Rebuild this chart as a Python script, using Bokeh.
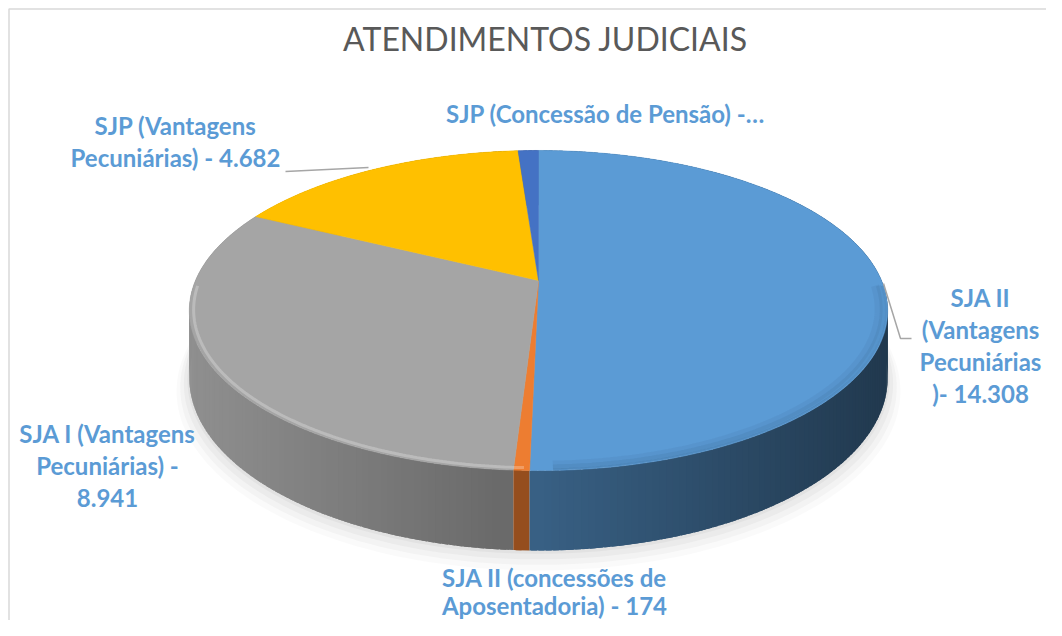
import numpy as np
from bokeh.plotting import figure
from bokeh.models import Range1d
from bokeh.embed import file_html
from bokeh.resources import INLINE
from bokeh.core.properties import value

# ---------------- data ----------------
categories = [
    "SJA II (Vantagens Pecuniárias)",
    "SJA II (concessões de Aposentadoria)",
    "SJA I (Vantagens Pecuniárias)",
    "SJP (Vantagens Pecuniárias)",
    "SJP (Concessão de Pensão)",
]
values = [14308, 174, 8941, 4682, 320]
colors = ["#5B9BD5", "#ED7D31", "#A5A5A5", "#FFC000", "#4472C4"]
label_lines = [
    ["SJA II", "(Vantagens", "Pecuniárias", ")- 14.308"],
    ["SJA II (concessões de", "Aposentadoria) - 174"],
    ["SJA I (Vantagens", "Pecuniárias) -", "8.941"],
    ["SJP (Vantagens", "Pecuniárias) - 4.682"],
    ["SJP (Concessão de Pensão) -…"],
]
title = "ATENDIMENTOS JUDICIAIS"

# ---------------- layout (picture pixel coordinates) ----------------
W, H = 1046, 620
CX, CY, RX, RY, K, D = 538, 280, 343, 154.4, 0.1875, 65
label_pos = [(980, 297), (554, 577), (107, 433), (175, 125), (605, 113)]
label_lh = [32, 28, 32, 32, 32]
leaders = [
    ([883, 900, 911], [283, 338, 338]),
    None,
    None,
    ([285, 368], [171, 167]),
    None,
]

p = figure(width=W, height=H, x_range=Range1d(0, W), y_range=Range1d(H, 0),
           output_backend="svg", toolbar_location=None, min_border=0)
p.axis.visible = False
p.grid.visible = False
p.outline_line_color = None
p.background_fill_color = "white"
p.border_fill_color = "white"

# chart border (top & left visible)
p.line([8.5, 8.5, 1100], [1100, 8.5, 8.5], line_color="#D9D9D9", line_width=1.5)


def proj(a, h, r=1.0):
    u = np.sin(a) * r
    v = np.cos(a) * r
    s = 1.0 / (1.0 + K * v)
    return CX + RX * u * s, CY + (-RY * v + D * h) * s


def shade(hexc, f):
    hexc = hexc.lstrip("#")
    rgb = [int(hexc[i:i + 2], 16) for i in (0, 2, 4)]
    rgb = [max(0, min(255, int(c * f))) for c in rgb]
    return "#%02x%02x%02x" % tuple(rgb)


total = float(sum(values))
fr = np.array(values) / total
ends = np.cumsum(fr) * 2 * np.pi
starts = np.concatenate([[0.0], ends[:-1]])

# soft shadow
full = np.linspace(0, 2 * np.pi, 240)
for r, dy, al in [(1.035, 11, 0.04), (1.025, 8, 0.05), (1.015, 5, 0.06), (1.005, 2, 0.08)]:
    sx, sy = proj(full, 1.0, r)
    p.patch(sx, sy + dy, fill_color="#7F7F7F", fill_alpha=al, line_color=None)

# walls (drawn back to front, thin overlapping strips for a smooth shading)
wall_xs, wall_ys, wall_cols, wall_depth = [], [], [], []
step = np.radians(1.0)
for s0, s1, c in zip(starts, ends, colors):
    n = max(2, int(np.degrees(s1 - s0) / 1.0) + 1)
    ang = np.linspace(s0, s1, n)
    for j in range(n - 1):
        a0 = ang[j]
        a1 = min(ang[j + 1] + step * 0.8, s1) if j < n - 2 else ang[j + 1]
        tx0, ty0 = proj(a0, 0)
        tx1, ty1 = proj(a1, 0)
        bx0, by0 = proj(a0, 1)
        bx1, by1 = proj(a1, 1)
        mx = 0.5 * (tx0 + tx1)
        f = 0.62 - 0.00072 * (mx - CX)
        wall_xs.append([tx0, tx1, bx1, bx0])
        wall_ys.append([ty0, ty1, by1, by0])
        wall_cols.append(shade(c, f))
        wall_depth.append(np.cos(0.5 * (a0 + a1)))
order = np.argsort(-np.array(wall_depth))
p.patches([wall_xs[i] for i in order], [wall_ys[i] for i in order],
          fill_color=[wall_cols[i] for i in order], line_color=None)

# top faces
top_xs, top_ys = [], []
for s0, s1 in zip(starts, ends):
    n = max(3, int(np.degrees(s1 - s0) / 0.5) + 1)
    ang = np.linspace(s0, s1, n)
    x, y = proj(ang, 0)
    top_xs.append([CX] + list(x))
    top_ys.append([CY] + list(y))
p.patches(top_xs, top_ys, fill_color=colors, line_color=colors, line_width=0.5)

# bevel: light rim on the left-front, soft dark rim on the right-front
rim = np.linspace(np.radians(182), np.radians(268), 160)
hx, hy = proj(rim, 0, 0.988)
p.line(hx, hy, line_color="white", line_alpha=0.25, line_width=3)
rim2 = np.linspace(np.radians(92), np.radians(178), 160)
for r, w, al in [(0.975, 8, 0.06), (0.985, 5, 0.08), (0.995, 2, 0.12)]:
    dx, dy2 = proj(rim2, 0, r)
    p.line(dx, dy2, line_color="#1F3A55", line_alpha=al, line_width=w)

# leader lines
for ld in leaders:
    if ld is not None:
        p.line(ld[0], ld[1], line_color="#A6A6A6", line_width=1.5)

# labels
for lines, (lx, ly), lh in zip(label_lines, label_pos, label_lh):
    ys = [ly + i * lh for i in range(len(lines))]
    p.text(x=[lx] * len(lines), y=ys, text=lines, text_align="center", text_baseline="middle",
           text_font=value("Lato"), text_font_style="bold", text_font_size="24px",
           text_color="#5B9BD5")

# title
p.text(x=[545], y=[38], text=[title], text_align="center", text_baseline="middle",
       text_font=value("Lato"), text_font_size="32px", text_color="#595959")

open("out.html", "w").write(file_html(p, INLINE))
